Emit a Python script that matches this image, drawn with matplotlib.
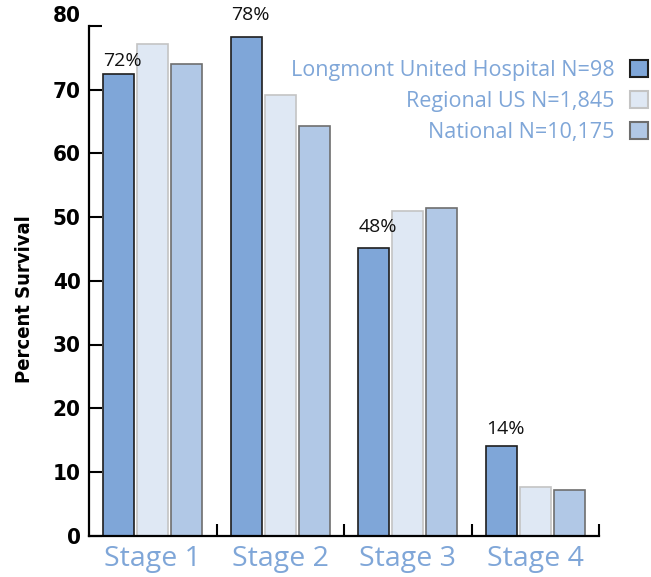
import numpy as np
import matplotlib.pyplot as plt
from matplotlib.patches import Patch

stages = ['Stage 1', 'Stage 2', 'Stage 3', 'Stage 4']
longmont = [72.4, 78.2, 45.2, 14.1]
regional = [77.2, 69.2, 50.9, 7.7]
national = [74.0, 64.3, 51.4, 7.1]
longmont_labels = ['72%', '78%', '48%', '14%']
series_names = ['Longmont United Hospital N=98', 'Regional US N=1,845', 'National N=10,175']

blue_text = '#7fa6d8'
fills = ['#7fa6d8', '#dfe8f4', '#b1c8e6']
edges = ['#1e1e1e', '#c4c4c4', '#6e6e6e']

fig = plt.figure(figsize=(6.51, 5.77), dpi=100)
ax = fig.add_axes([89 / 651, (577 - 535.6) / 577, 510 / 651, 509.6 / 577])

x = np.arange(len(stages))
w = 0.243
off = 0.267
for i, vals in enumerate([longmont, regional, national]):
    ax.bar(x + (i - 1) * off, vals, width=w, color=fills[i], edgecolor=edges[i],
           linewidth=1.2, label=series_names[i])

# offsets (points) of the percent labels above the hospital bars
label_offsets = [10, 16, 15, 12]
for xi, v, lab, o in zip(x, longmont, longmont_labels, label_offsets):
    ax.annotate(lab, (xi - off, v), xytext=(3, o), textcoords='offset points',
                ha='center', va='center', fontsize=14, family='Open Sans', color='#111111')

ax.set_xlim(-0.5, 3.5)
ax.set_ylim(0, 80)
ax.spines['top'].set_visible(False)
ax.spines['right'].set_visible(False)
ax.spines['left'].set_linewidth(1.6)
ax.spines['bottom'].set_linewidth(1.6)

ax.set_yticks(range(0, 81, 10))
ax.tick_params(axis='y', direction='in', length=9, width=1.5, pad=6)
for t in ax.get_yticklabels():
    t.set_fontweight('bold')
    t.set_fontsize(16)
    t.set_fontstretch('condensed')
ax.get_yticklabels()[-1].set_verticalalignment('bottom')

ax.set_xticks([0.5, 1.5, 2.5, 3.5])
ax.set_xticklabels([])
ax.tick_params(axis='x', direction='in', length=9, width=1.5)
for xi, s in zip(x, stages):
    ax.text(xi, -3.6, s, ha='center', va='center', fontsize=20.5, family='Open Sans',
            color=blue_text)

ax.set_ylabel('Percent Survival', fontsize=14.5, fontweight='bold', fontstretch='condensed')
ax.yaxis.set_label_coords(-0.108, 0.464)

handles = [Patch(facecolor=fills[i], edgecolor=edges[i], linewidth=1.5) for i in range(3)]
leg = fig.legend(handles, series_names, loc='upper right', bbox_to_anchor=(648 / 651, 1 - 60 / 577),
                 frameon=False, markerfirst=False, prop={'family': 'Open Sans', 'size': 15.5},
                 labelcolor=blue_text, handlelength=0.82, handleheight=0.82,
                 handletextpad=0.72, labelspacing=0.46, borderpad=0, borderaxespad=0)

fig.savefig('out.png', dpi=100)
